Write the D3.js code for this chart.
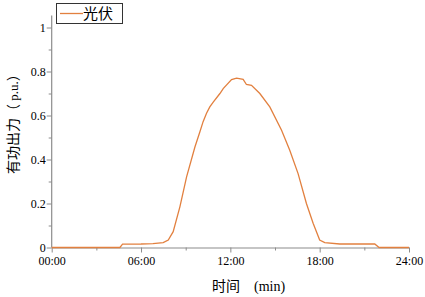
<!DOCTYPE html>
<html>
<head>
<meta charset="utf-8">
<script src="https://cdn.jsdelivr.net/npm/d3@7"></script>
<style>
  body { margin: 0; background: #fff; }
  svg { display: block; }
  .tick text { font-family: "Liberation Serif", serif; font-size: 12px; }
</style>
</head>
<body>
<div id="chart"></div>
<script>
// data (hour of day, p.u.)
const hours = [0, 4.58, 4.76, 6.0, 6.8, 7.49, 7.83, 8.16, 8.61, 9.06, 9.62, 9.95, 10.17, 10.4, 10.62,
  10.85, 11.3, 11.52, 12.08, 12.42, 12.86, 13.08, 13.42, 13.98, 14.65, 15.44, 15.99, 16.55,
  17.11, 17.56, 18.0, 18.34, 19.35, 21.7, 21.99, 24];
const power = [0, 0, 0.015, 0.016, 0.018, 0.022, 0.034, 0.072, 0.185, 0.321, 0.457, 0.525, 0.572, 0.610, 0.639,
  0.661, 0.70, 0.722, 0.763, 0.770, 0.764, 0.741, 0.737, 0.70, 0.639, 0.533, 0.442, 0.336,
  0.200, 0.110, 0.034, 0.022, 0.016, 0.016, 0, 0];
const xTicks = [0, 6, 12, 18, 24];
const yTicks = [0, 0.2, 0.4, 0.6, 0.8, 1];
const seriesName = "光伏";

const W = 425, H = 297;
const margin = { top: 27.5, right: 16, bottom: 49.5, left: 51.7 };
const width = W - margin.left - margin.right;
const height = H - margin.top - margin.bottom;

const xScale = d3.scaleLinear().domain([0, 24]).range([0, width]);
const yScale = d3.scaleLinear().domain([0, 1]).range([height, 0]);

const svg = d3.select("#chart").append("svg")
    .attr("width", W)
    .attr("height", H)
    .append("g")
    .attr("transform", `translate(${margin.left}, ${margin.top})`);

const axisColor = "#8c8c8c";
const serif = "Liberation Serif";
const cjk = "Noto Sans CJK SC";

// minor ticks
svg.append("g")
    .attr("transform", `translate(0,${height})`)
    .call(d3.axisBottom(xScale).tickValues([3, 9, 15, 21]).tickSize(3).tickFormat(""))
    .call(g => g.select(".domain").remove())
    .selectAll("line").attr("stroke", axisColor);

svg.append("g")
    .call(d3.axisLeft(yScale).tickValues([0.1, 0.3, 0.5, 0.7, 0.9]).tickSize(3).tickFormat(""))
    .call(g => g.select(".domain").remove())
    .selectAll("line").attr("stroke", axisColor);

// x axis
const xAxis = svg.append("g")
    .attr("transform", `translate(0,${height})`)
    .call(d3.axisBottom(xScale)
        .tickValues(xTicks)
        .tickSize(5)
        .tickSizeOuter(0)
        .tickFormat(d => String(d).padStart(2, "0") + ":00"))
    .attr("font-family", serif)
    .attr("font-size", 12);
xAxis.select(".domain").attr("stroke", axisColor).attr("stroke-width", 1.2);
xAxis.selectAll(".tick line").attr("stroke", axisColor);
xAxis.selectAll(".tick text")
    .attr("fill", "#000")
    .attr("y", 9);

// y axis
const yAxis = svg.append("g")
    .call(d3.axisLeft(yScale)
        .tickValues(yTicks)
        .tickSize(5)
        .tickSizeOuter(0)
        .tickFormat(d => String(+d.toFixed(1))))
    .attr("font-family", serif)
    .attr("font-size", 12);
yAxis.select(".domain")
    .attr("d", `M0,${height}V${-12}`)
    .attr("stroke", axisColor)
    .attr("stroke-width", 1.2);
yAxis.selectAll(".tick line").attr("stroke", axisColor);
yAxis.selectAll(".tick text")
    .attr("fill", "#000")
    .attr("x", -6);

// line
const line = d3.line()
    .x((d, i) => xScale(hours[i]))
    .y(d => yScale(d));

svg.append("path")
    .datum(power)
    .attr("fill", "none")
    .attr("stroke", "#e2803f")
    .attr("stroke-width", 1.3)
    .attr("d", line);

// legend
const legend = svg.append("g").attr("transform", `translate(${56 - margin.left}, ${3 - margin.top})`);
legend.append("rect")
    .attr("x", 0.5).attr("y", 0.5)
    .attr("width", 66).attr("height", 20)
    .attr("fill", "#fff")
    .attr("stroke", "#333")
    .attr("stroke-width", 1);
legend.append("line")
    .attr("x1", 4).attr("x2", 27)
    .attr("y1", 10.5).attr("y2", 10.5)
    .attr("stroke", "#e2803f")
    .attr("stroke-width", 1.3);
legend.append("text")
    .attr("x", 27).attr("y", 16)
    .attr("font-family", cjk)
    .attr("font-size", 15)
    .attr("fill", "#000")
    .text(seriesName);

// x label
const xl = svg.append("text")
    .attr("x", 212 - margin.left)
    .attr("y", 291 - margin.top)
    .attr("fill", "#000");
xl.append("tspan").attr("font-family", cjk).attr("font-size", 14).text("时间");
xl.append("tspan").attr("dx", 14).attr("font-family", serif).attr("font-size", 14).text("(min)");

// y label
const yl = svg.append("text")
    .attr("transform", `translate(${18 - margin.left}, ${174 - margin.top}) rotate(-90)`)
    .attr("fill", "#000");
yl.append("tspan").attr("font-family", cjk).attr("font-size", 14).text("有功出力（");
yl.append("tspan").attr("font-family", serif).attr("font-size", 13).text(" p.u.");
yl.append("tspan").attr("font-family", cjk).attr("font-size", 14).text("）");
</script>
</body>
</html>
